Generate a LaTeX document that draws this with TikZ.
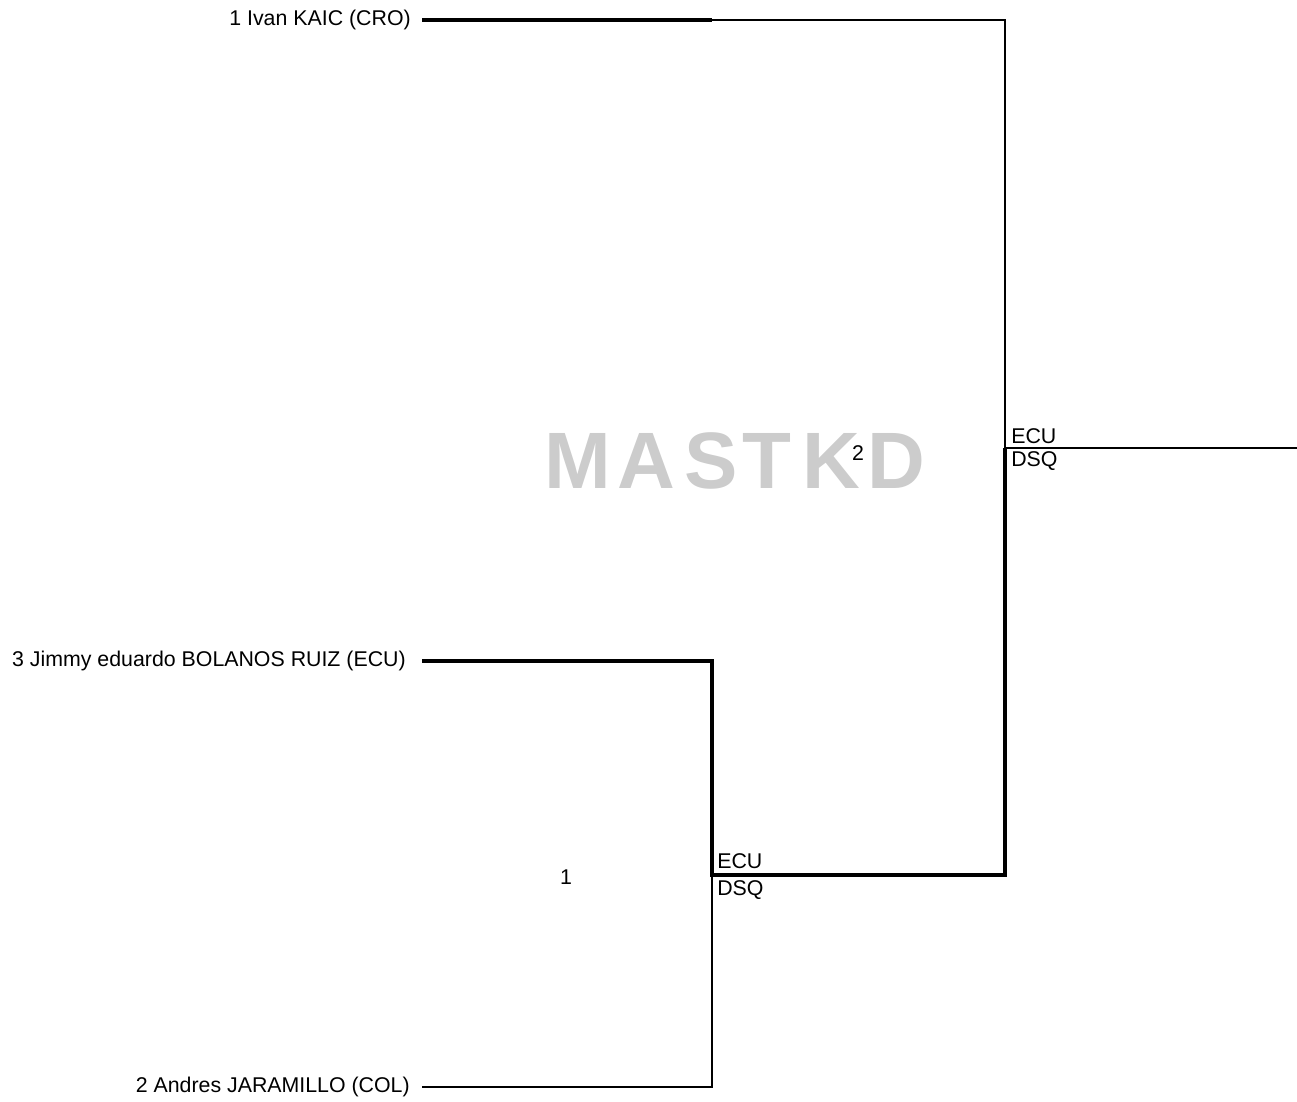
\documentclass[tikz,border=0pt]{standalone}
\usepackage{fontspec}
\setmainfont{Liberation Sans}
\begin{document}
\begin{tikzpicture}[x=0.75pt,y=-0.75pt,
  thinln/.style={line width=1.2pt,black},
  thickln/.style={line width=3pt,black},
  pname/.style={font=\fontsize{16}{18}\selectfont,anchor=east,inner sep=0pt},
  res/.style={font=\fontsize{16}{18}\selectfont,anchor=base west,inner sep=0pt},
  wm/.style={font=\fontsize{60}{60}\selectfont\bfseries,text=black!20,inner sep=0pt,anchor=center}]
\useasboundingbox (0,0) rectangle (1297,1101);
% watermark
\node[wm] (w1) at (578,461) {M};
\node[wm] (w2) at (646,461) {A};
\node[wm] (w3) at (711,461) {S};
\node[wm] (w4) at (767,461) {T};
\node[wm] (w5) at (831,461) {K};
\node[wm] (w6) at (896,461) {D};
% players
\node[pname] (p1) at (411,20) {1 Ivan KAIC (CRO)};
\node[pname] (p3) at (406,661) {3 Jimmy eduardo BOLANOS RUIZ (ECU)};
\node[pname] (p2) at (410,1087) {2 Andres JARAMILLO (COL)};
% corners
\coordinate (a1) at (422,20);
\coordinate (m1) at (712,20);
\coordinate (c1) at (1005,20);
\coordinate (a3) at (422,661);
\coordinate (c3) at (712,661);
\coordinate (a2) at (422,1087);
\coordinate (c2) at (712,1087);
\coordinate (j1) at (712,875);
\coordinate (j2) at (1005,875);
\coordinate (f) at (1005,448);
\coordinate (e) at (1297,448);
% lines
\draw[thickln] (a1) -- (m1);
\draw[thinln] (m1) -- (c1) -- (f);
\draw[thinln] (f) -- (e);
\draw[thickln,line join=miter] (a3) -- (c3) -- (j1) -- (j2) -- (f);
\draw[thinln] (a2) -- (c2) -- (j1);
% results
\node[res] (r1a) at (717,868) {ECU};
\node[res] (r1b) at (717,895) {DSQ};
\node[res] (r2a) at (1011,443) {ECU};
\node[res] (r2b) at (1011,466) {DSQ};
\node[font=\fontsize{16}{18}\selectfont,inner sep=0pt] (n1) at (566,877) {1};
\node[font=\fontsize{16}{18}\selectfont,inner sep=0pt] (n2) at (858,453) {2};
\end{tikzpicture}
\end{document}
